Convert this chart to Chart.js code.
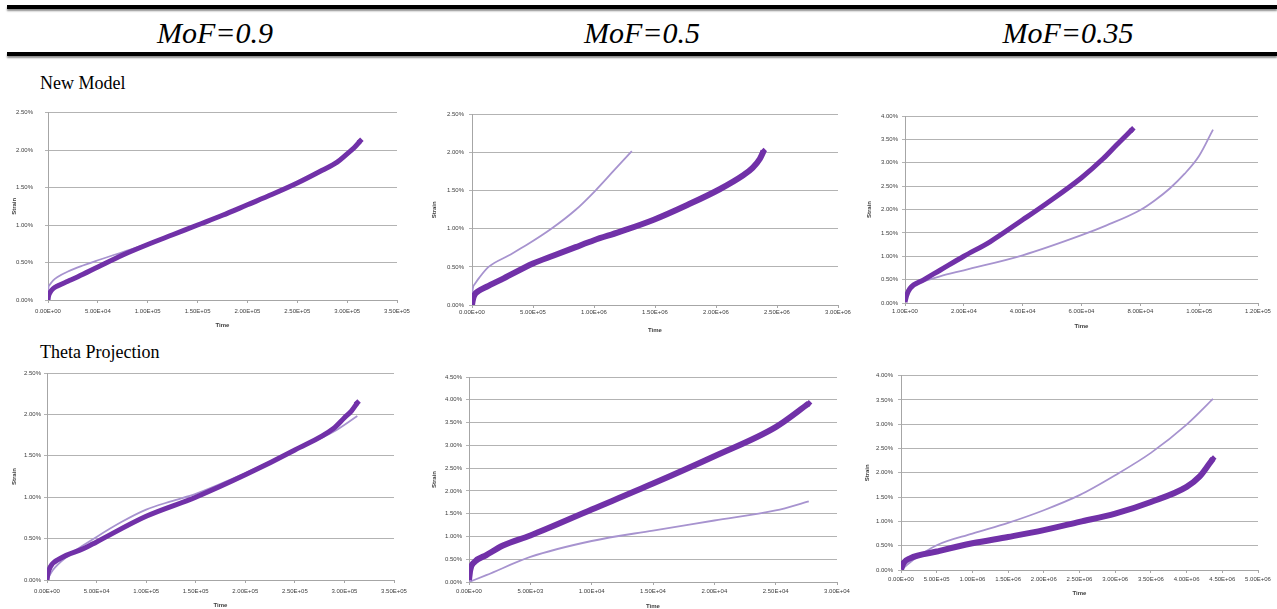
<!DOCTYPE html>
<html>
<head>
<meta charset="utf-8">
<script src="https://cdn.jsdelivr.net/npm/chart.js@4/dist/chart.umd.min.js"></script>
<style>
body{margin:0;width:1277px;height:609px;background:#fff;position:relative;overflow:hidden;font-family:"Liberation Serif","Times New Roman",serif}
.rule{position:absolute;left:7px;right:0;height:4px;background:#000;box-shadow:0 2px 2px rgba(0,0,0,0.45)}
.mof{position:absolute;top:18px;font-style:italic;font-size:30px;line-height:30px;transform:translateX(-50%);white-space:nowrap}
.row{position:absolute;left:40px;font-size:18px;line-height:18px;white-space:nowrap}
canvas{position:absolute}
</style>
</head>
<body>
<div class="rule" style="top:5px"></div>
<div class="rule" style="top:52px"></div>
<div class="mof" style="left:215px">MoF=0.9</div>
<div class="mof" style="left:642px">MoF=0.5</div>
<div class="mof" style="left:1068px">MoF=0.35</div>
<div class="row" style="top:74px">New Model</div>
<div class="row" style="top:343px">Theta Projection</div>

<canvas id="c1"></canvas>
<canvas id="c2"></canvas>
<canvas id="c3"></canvas>
<canvas id="c4"></canvas>
<canvas id="c5"></canvas>
<canvas id="c6"></canvas>

<script>
// tick labels
const xLabels1 = ['0.00E+00','5.00E+04','1.00E+05','1.50E+05','2.00E+05','2.50E+05','3.00E+05','3.50E+05'];
const xLabels2 = ['0.00E+00','5.00E+05','1.00E+06','1.50E+06','2.00E+06','2.50E+06','3.00E+06'];
const xLabels3 = ['1.00E+00','2.00E+04','4.00E+04','6.00E+04','8.00E+04','1.00E+05','1.20E+05'];
const xLabels5 = ['0.00E+00','5.00E+03','1.00E+04','1.50E+04','2.00E+04','2.50E+04','3.00E+04'];
const xLabels6 = ['0.00E+00','5.00E+05','1.00E+06','1.50E+06','2.00E+06','2.50E+06','3.00E+06','3.50E+06','4.00E+06','4.50E+06','5.00E+06'];
const yLabels25 = ['0.00%','0.50%','1.00%','1.50%','2.00%','2.50%'];
const yLabels40 = ['0.00%','0.50%','1.00%','1.50%','2.00%','2.50%','3.00%','3.50%','4.00%'];
const yLabels45 = ['0.00%','0.50%','1.00%','1.50%','2.00%','2.50%','3.00%','3.50%','4.00%','4.50%'];

// [time, strain %] - test data (thick) and model (thin)
const test09 = [[0,0],[500,0.05],[2000,0.1],[5000,0.15],[10000,0.19],[20000,0.25],[30000,0.31],[50000,0.44],[75000,0.6],[100000,0.74],[125000,0.87],[150000,1.0],[175000,1.13],[200000,1.27],[225000,1.41],[250000,1.56],[275000,1.73],[290000,1.84],[300000,1.95],[307000,2.03],[313000,2.12]];
const newModel09 = [[0,0],[300,0.15],[1500,0.2],[5000,0.26],[10000,0.31],[20000,0.38],[35000,0.46],[50000,0.53],[75000,0.64],[100000,0.75],[150000,1.0],[200000,1.27],[250000,1.57],[290000,1.84],[305000,2.0],[313000,2.1]];

const test05 = [[0,0],[5000,0.05],[14000,0.11],[50000,0.18],[120000,0.24],[260000,0.35],[500000,0.545],[670000,0.65],[850000,0.76],[1000000,0.85],[1210000,0.96],[1490000,1.12],[1760000,1.31],[2030000,1.52],[2220000,1.7],[2300000,1.8],[2360000,1.92],[2390000,2.02]];
const newModel05 = [[0,0],[2000,0.15],[20000,0.27],[60000,0.36],[136000,0.5],[300000,0.65],[450000,0.79],[650000,1.0],[850000,1.25],[1010000,1.5],[1160000,1.76],[1310000,2.02]];

const test035 = [[0,0.02],[570,0.16],[1700,0.31],[6200,0.49],[11900,0.7],[20000,1.0],[28900,1.31],[40000,1.78],[48100,2.13],[60000,2.68],[67400,3.09],[71900,3.38],[77200,3.71]];
const newModel035 = [[0,0.06],[500,0.24],[4000,0.41],[11900,0.57],[20000,0.7],[40000,1.02],[60000,1.45],[68500,1.66],[80000,1.99],[85000,2.2],[90000,2.45],[95000,2.76],[100000,3.15],[104700,3.71]];

const testTheta09 = [[0,0],[1000,0.08],[3400,0.16],[13400,0.26],[37000,0.38],[50000,0.46],[100000,0.77],[150000,1.0],[200000,1.27],[250000,1.57],[289000,1.83],[300000,1.96],[307000,2.04],[313000,2.14]];
const theta09 = [[0,0],[6000,0.12],[20000,0.28],[50000,0.52],[75000,0.7],[100000,0.85],[125000,0.95],[150000,1.04],[175000,1.16],[200000,1.29],[250000,1.57],[289000,1.79],[313000,1.98]];

const testTheta05 = [[0,0.04],[100,0.26],[460,0.44],[1410,0.59],[2770,0.8],[5000,1.02],[10000,1.59],[15000,2.16],[20000,2.76],[25000,3.4],[27700,3.92]];
const theta05 = [[0,0],[1410,0.15],[5000,0.55],[10000,0.9],[15000,1.13],[20000,1.35],[25000,1.57],[27700,1.77]];

const testTheta035 = [[0,0.01],[33000,0.14],[126000,0.24],[500000,0.38],[1000000,0.55],[1500000,0.68],[2000000,0.82],[2500000,0.99],[3000000,1.16],[3500000,1.4],[4000000,1.71],[4180000,1.92],[4320000,2.19],[4370000,2.29]];
const theta035 = [[0,0],[173000,0.21],[500000,0.51],[1000000,0.75],[1500000,0.97],[2000000,1.23],[2500000,1.54],[3000000,1.95],[3500000,2.41],[4000000,2.99],[4370000,3.52]];

const tickFont = {family:"'Liberation Sans Narrow','Liberation Sans',sans-serif", size:6};
const titleFont = {family:"'Liberation Sans Narrow','Liberation Sans',sans-serif", size:6, weight:'bold'};

function drawChart(id, g, testData, modelData, xMax, xStep, xLabels, yMax, yLabels) {
    const canvas = document.getElementById(id);
    const left = g.sx - 4, top = g.T - 8;
    const w = g.R + 22 - left, h = g.ty + 4 - top;
    canvas.width = w; canvas.height = h;
    canvas.style.left = left + 'px'; canvas.style.top = top + 'px';
    canvas.style.width = w + 'px'; canvas.style.height = h + 'px';
    const yW = g.L - left, xH = h - (g.B - top);
    const last = testData.length - 1;

    new Chart(canvas.getContext('2d'), {
        type: 'scatter',
        data: {
            datasets: [{
                data: testData.map(p => ({x: p[0], y: p[1]})),
                showLine: true,
                borderColor: '#7131A8',
                backgroundColor: '#7131A8',
                borderWidth: g.lw,
                cubicInterpolationMode: 'monotone',
                pointStyle: 'rectRot',
                pointRadius: ctx => ctx.dataIndex === last ? 3.5 : 0,
                pointBorderWidth: 0
            }, {
                data: modelData.map(p => ({x: p[0], y: p[1]})),
                showLine: true,
                borderColor: '#A793CF',
                borderWidth: 1.8,
                cubicInterpolationMode: 'monotone',
                pointRadius: 0
            }]
        },
        options: {
            responsive: false,
            animation: false,
            layout: {padding: {top: 8, right: 22, left: 0, bottom: 0}},
            plugins: {legend: {display: false}, tooltip: {enabled: false}},
            scales: {
                x: {
                    type: 'linear', min: 0, max: xMax,
                    ticks: {stepSize: xStep, autoSkip: false, maxRotation: 0, padding: g.xPad, font: tickFont, color: '#404040',
                        callback: (v, i) => xLabels[i]},
                    grid: {drawOnChartArea: false, drawTicks: true, tickLength: 3, color: '#A6A6A6'},
                    border: {color: '#A6A6A6'},
                    title: {display: true, text: 'Time', padding: 0, font: titleFont, color: '#404040'},
                    afterFit: s => { s.height = xH; }
                },
                y: {
                    type: 'linear', min: 0, max: yMax,
                    ticks: {stepSize: 0.5, padding: g.yPad, font: tickFont, color: '#404040',
                        callback: (v, i) => yLabels[i]},
                    grid: {color: '#B3B3B3', tickLength: 3},
                    border: {color: '#A6A6A6'},
                    title: {display: true, text: 'Strain', padding: 0, font: titleFont, color: '#404040'},
                    afterFit: s => { s.width = yW; }
                }
            }
        }
    });
}

drawChart('c1', {L:48, T:105, R:397, B:300, sx:15, ty:325, xPad:5, yPad:12, lw:5}, test09, newModel09, 350000, 50000, xLabels1, 2.5, yLabels25);
drawChart('c2', {L:472, T:114, R:838, B:305, sx:435, ty:330, xPad:1, yPad:5, lw:6}, test05, newModel05, 3000000, 500000, xLabels2, 2.5, yLabels25);
drawChart('c3', {L:905, T:116, R:1258, B:303, sx:870, ty:326, xPad:2, yPad:4, lw:5}, test035, newModel035, 120000, 20000, xLabels3, 4.0, yLabels40);
drawChart('c4', {L:47, T:373, R:394, B:580, sx:15, ty:605, xPad:5, yPad:3, lw:5}, testTheta09, theta09, 350000, 50000, xLabels1, 2.5, yLabels25);
drawChart('c5', {L:469, T:377, R:837, B:582, sx:435, ty:606, xPad:3, yPad:4, lw:6}, testTheta05, theta05, 30000, 5000, xLabels5, 4.5, yLabels45);
drawChart('c6', {L:901, T:375, R:1258, B:570, sx:868, ty:593, xPad:3, yPad:5, lw:6}, testTheta035, theta035, 5000000, 500000, xLabels6, 4.0, yLabels40);
</script>
</body>
</html>
